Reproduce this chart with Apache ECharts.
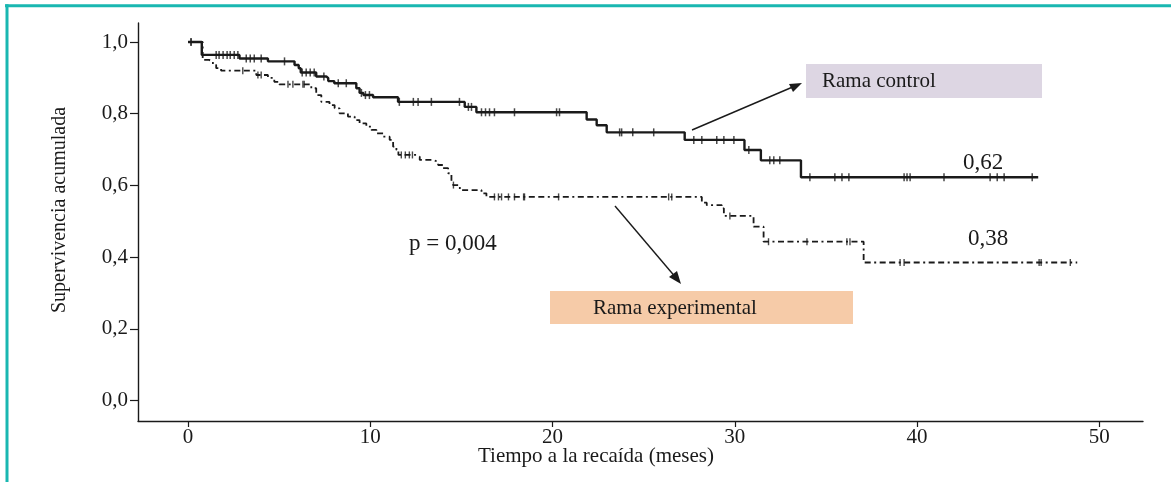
<!DOCTYPE html>
<html>
<head>
<meta charset="utf-8">
<script src="https://cdn.jsdelivr.net/npm/echarts@6/dist/echarts.min.js"></script>
<style>
html,body{margin:0;padding:0;background:#fff;}
#chart{width:1171px;height:482px;}
</style>
</head>
<body>
<div id="chart"></div>
<script>
// ---- Data ----
const xTicks = [0, 10, 20, 30, 40, 50];
const yTicks = [0, 0.2, 0.4, 0.6, 0.8, 1.0];
const yTickLabels = ['0,0', '0,2', '0,4', '0,6', '0,8', '1,0'];

// Rama control (solid) – step times (months) and survival after each step
const ctrlTimes = [0, 0.75, 2.82, 4.38, 5.84, 6.07, 6.18, 7.03, 7.58, 7.69, 8.02, 9.23, 9.41, 9.62, 10.15, 11.52, 15.18, 15.82, 21.87, 22.42, 22.97, 27.25, 30.53, 31.43, 33.63, 46.65];
const ctrlSurv  = [1.0, 0.964, 0.954, 0.946, 0.936, 0.927, 0.915, 0.904, 0.899, 0.891, 0.885, 0.871, 0.858, 0.852, 0.846, 0.833, 0.819, 0.804, 0.784, 0.768, 0.748, 0.727, 0.699, 0.670, 0.623, 0.623];
const ctrlCensor = [0.16, 1.54, 1.70, 1.92, 2.14, 2.31, 2.53, 2.73, 3.19, 3.41, 3.63, 4.01, 5.29, 6.26, 6.48, 6.70, 6.92, 7.45, 8.24, 8.68, 9.51, 9.73, 9.95, 11.59, 12.36, 12.62, 13.35, 14.89, 15.38, 15.55, 16.10, 16.32, 16.54, 16.81, 17.91, 20.22, 20.38, 23.68, 23.79, 24.40, 25.55, 27.75, 28.19, 29.01, 29.40, 29.95, 30.77, 31.92, 32.14, 32.47, 34.12, 35.49, 35.88, 36.26, 39.29, 39.45, 39.62, 41.48, 44.01, 44.40, 44.78, 46.32];

// Rama experimental (dash-dot)
const expTimes = [0, 0.8, 1.15, 1.36, 1.54, 1.81, 3.74, 4.38, 4.73, 5.0, 6.76, 7.03, 7.31, 7.76, 8.04, 8.31, 8.77, 9.14, 9.41, 9.78, 10.05, 10.33, 10.70, 11.06, 11.25, 11.43, 11.54, 12.53, 12.71, 13.45, 13.72, 13.99, 14.27, 14.45, 14.54, 14.91, 16.10, 16.37, 28.19, 28.46, 29.29, 29.40, 31.03, 31.58, 37.07, 48.79];
const expSurv  = [1.0, 0.95, 0.945, 0.936, 0.927, 0.92, 0.908, 0.9, 0.889, 0.882, 0.871, 0.852, 0.833, 0.824, 0.815, 0.801, 0.792, 0.782, 0.773, 0.764, 0.755, 0.745, 0.736, 0.727, 0.708, 0.699, 0.685, 0.68, 0.671, 0.666, 0.657, 0.648, 0.634, 0.615, 0.601, 0.587, 0.578, 0.568, 0.552, 0.545, 0.536, 0.515, 0.485, 0.443, 0.385, 0.385];
const expCensor = [0.16, 3.0, 3.83, 4.01, 5.48, 5.75, 6.30, 6.37, 11.70, 11.92, 12.14, 12.31, 14.56, 16.81, 17.03, 17.20, 17.58, 17.91, 18.41, 18.46, 20.33, 26.37, 26.54, 29.73, 31.85, 33.96, 36.15, 36.32, 39.07, 39.29, 46.70, 46.81, 48.41];

// ---- Build series data ----
function stepPoints(t, s) { return t.map((v, i) => [v, s[i]]); }
function survAt(t, s, x) {
  let v = s[0];
  for (let i = 0; i < t.length; i++) { if (t[i] <= x) v = s[i]; else break; }
  return v;
}
const ctrlCensorPts = ctrlCensor.map(x => [x, survAt(ctrlTimes, ctrlSurv, x)]);
const expCensorPts = expCensor.map(x => [x, survAt(expTimes, expSurv, x)]);

const FONT = '"Liberation Serif", "Times New Roman", serif';
const INK = '#1a1a1a';
const TEAL = '#1ab7b1';

const chart = echarts.init(document.getElementById('chart'), null, { renderer: 'canvas' });

const option = {
  backgroundColor: '#ffffff',
  animation: false,
  grid: { left: 138, right: 28, top: 23, bottom: 61 },
  xAxis: {
    type: 'value',
    min: -2.75, max: 52.4,
    splitLine: { show: false },
    axisLine: { onZero: false, lineStyle: { color: INK, width: 1.4 } },
    axisTick: { customValues: xTicks, length: 6, lineStyle: { color: INK, width: 1.2 } },
    axisLabel: { customValues: xTicks, margin: 6, color: INK, fontFamily: FONT, fontSize: 21 }
  },
  yAxis: {
    type: 'value',
    min: -0.057, max: 1.053,
    splitLine: { show: false },
    axisLine: { onZero: false, lineStyle: { color: INK, width: 1.4 } },
    axisTick: { customValues: yTicks, length: 8, lineStyle: { color: INK, width: 1.2 } },
    axisLabel: {
      customValues: yTicks, margin: 10, color: INK, fontFamily: FONT, fontSize: 21,
      formatter: v => { const i = yTicks.findIndex(t => Math.abs(t - v) < 1e-6); return i >= 0 ? yTickLabels[i] : ''; }
    }
  },
  series: [
    {
      name: 'Rama control', type: 'line', step: 'end', showSymbol: false, symbol: 'none',
      data: stepPoints(ctrlTimes, ctrlSurv),
      lineStyle: { color: INK, width: 2.4, type: 'solid' }, z: 3
    },
    {
      name: 'Rama experimental', type: 'line', step: 'end', showSymbol: false, symbol: 'none',
      data: stepPoints(expTimes, expSurv),
      lineStyle: { color: INK, width: 1.8, type: [6, 3.5, 6, 3.5, 2, 3.5] }, z: 3
    },
    {
      name: 'censor control', type: 'scatter', data: ctrlCensorPts,
      symbol: 'rect', symbolSize: [1.5, 8], itemStyle: { color: INK }, z: 4
    },
    {
      name: 'censor exp', type: 'scatter', data: expCensorPts,
      symbol: 'rect', symbolSize: [1.4, 7], itemStyle: { color: INK }, z: 4
    }
  ],
  graphic: [
    // frame (top + left teal rules)
    { type: 'line', shape: { x1: 5, y1: 5.8, x2: 1171, y2: 5.8 }, style: { stroke: TEAL, lineWidth: 3 } },
    { type: 'line', shape: { x1: 7, y1: 4.3, x2: 7, y2: 482 }, style: { stroke: TEAL, lineWidth: 3 } },
    // axis names
    { type: 'text', x: 60, y: 210, rotation: Math.PI / 2,
      style: { text: 'Supervivencia acumulada', font: '20px ' + FONT, fill: INK, align: 'center', verticalAlign: 'middle' } },
    { type: 'text', x: 596, y: 456,
      style: { text: 'Tiempo a la recaída (meses)', font: '21px ' + FONT, fill: INK, align: 'center', verticalAlign: 'middle' } },
    // Rama control label box + arrow
    { type: 'rect', shape: { x: 806, y: 64, width: 236, height: 34 }, style: { fill: '#ddd6e3' } },
    { type: 'text', x: 822, y: 81, style: { text: 'Rama control', font: '21px ' + FONT, fill: INK, align: 'left', verticalAlign: 'middle' } },
    { type: 'line', shape: { x1: 692, y1: 130, x2: 795, y2: 86 }, style: { stroke: INK, lineWidth: 1.4 } },
    { type: 'polygon', shape: { points: [[802, 83], [789, 84], [793, 92]] }, style: { fill: INK } },
    // Rama experimental label box + arrow
    { type: 'rect', shape: { x: 550, y: 291, width: 303, height: 33 }, style: { fill: '#f6cba8' } },
    { type: 'text', x: 593, y: 308, style: { text: 'Rama experimental', font: '21px ' + FONT, fill: INK, align: 'left', verticalAlign: 'middle' } },
    { type: 'line', shape: { x1: 615, y1: 206, x2: 677, y2: 279 }, style: { stroke: INK, lineWidth: 1.4 } },
    { type: 'polygon', shape: { points: [[681, 284], [669, 277], [677, 271]] }, style: { fill: INK } },
    // p value and end values
    { type: 'text', x: 409, y: 244, style: { text: 'p = 0,004', font: '23px ' + FONT, fill: INK, align: 'left', verticalAlign: 'middle' } },
    { type: 'text', x: 963, y: 163, style: { text: '0,62', font: '23px ' + FONT, fill: INK, align: 'left', verticalAlign: 'middle' } },
    { type: 'text', x: 968, y: 239, style: { text: '0,38', font: '23px ' + FONT, fill: INK, align: 'left', verticalAlign: 'middle' } }
  ]
};
chart.setOption(option);
</script>
</body>
</html>
